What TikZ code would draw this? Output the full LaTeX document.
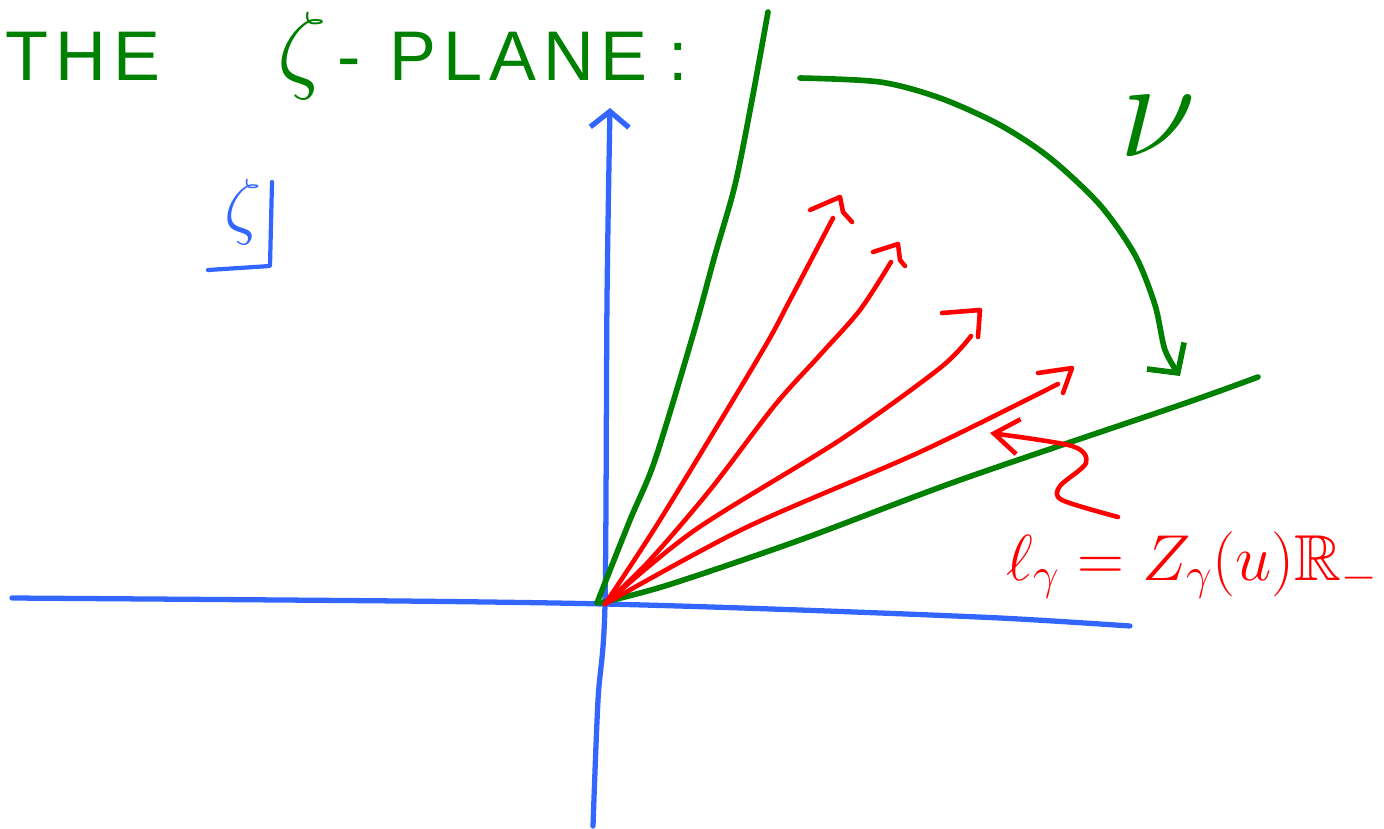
\RequirePackage{fix-cm}
\documentclass[tikz,border=0pt]{standalone}
\usepackage{fontspec}
\usepackage{amsmath}
\usepackage{amssymb}
\setmainfont{Liberation Sans}
\usetikzlibrary{arrows.meta, positioning}
\definecolor{axisBlue}{HTML}{3366FF}
\definecolor{penGreen}{HTML}{008000}
\definecolor{penRed}{HTML}{FF0000}

\begin{document}
\begin{tikzpicture}[
    x=0.02cm, y=-0.02cm,
    axis/.style={draw=axisBlue, line width=3pt, line cap=round, line join=round},
    wedge/.style={draw=penGreen, line width=3.2pt, line cap=round, line join=round},
    ray/.style={draw=penRed, line width=2.6pt, line cap=round, line join=round},
    lbl/.style={inner sep=0pt, anchor=base west},
]
    \useasboundingbox (0,0) rectangle (1384,829);
    \coordinate (O) at (605,604);

    % axes
    \draw[axis] plot[smooth] coordinates {(12,598) (400,601) (O) (800,610) (1000,618) (1130,626)};
    \draw[axis, -{Straight Barb[length=9pt, width=22pt]}] plot[smooth] coordinates {(593,826) (598,700) (O) (607,300) (610,108)};

    % labels
    \node[lbl, text=penGreen, font=\fontsize{40}{40}\selectfont\addfontfeature{LetterSpace=10}] (title) at (5,80)
        {THE\hspace{67pt}{\fontsize{56}{56}\selectfont$\zeta$}\hspace{6pt}-\hspace{16pt}PLANE\hspace{12pt}:};
    \node[text=axisBlue, font=\fontsize{42}{42}\selectfont] (zeta) at (243,212) {$\zeta$};
    \draw[axis, line width=2.4pt] (208,270) -- (270,266) -- (272,182);
    \node[text=penGreen, font=\fontsize{80}{80}\selectfont] (nu) at (1158,126) {$\nu$};
    \node[lbl, text=penRed, font=\fontsize{37}{37}\selectfont] (ldef) at (1006,580)
        {$\ell_\gamma = Z_\gamma(u)\mathbb{R}_-$};

    % the wedge and its rotation
    \draw[wedge] plot[smooth] coordinates {(597,603) (630,520) (655,460) (693,335) (715,255) (735,185) (752,100) (768,12)};
    \draw[wedge] plot[smooth] coordinates {(600,603) (668,585) (800,540) (960,480) (1180,405) (1258,377)};
    \draw[wedge, -{Straight Barb[length=12pt, width=26pt]}] plot[smooth] coordinates
        {(800,78) (880,82) (940,98) (1000,125) (1050,158) (1100,205) (1135,255) (1155,305) (1165,350) (1180,376)};

    % rays
    \coordinate (r1) at (833,218);
    \coordinate (r2) at (891,262);
    \coordinate (r3) at (971,336);
    \coordinate (r4) at (1058,384);
    \draw[ray] plot[smooth] coordinates {(O) (660,520) (760,355) (790,300) (r1)};
    \draw[ray] plot[smooth] coordinates {(O) (650,560) (710,490) (775,405) (820,355) (860,310) (r2)};
    \draw[ray] plot[smooth] coordinates {(O) (695,530) (840,440) (940,368) (r3)};
    \draw[ray] plot[smooth] coordinates {(O) (745,528) (920,452) (r4)};
    \draw[ray] (810,210) -- (840,197) -- (843,212) -- (852,222);
    \draw[ray] (873,252) -- (898,244) -- (900,260) -- (905,266);
    \draw[ray] (942,313) -- (980,310) -- (978,337);
    \draw[ray] (1038,373) -- (1072,368) -- (1063,393);

    % pointer to the ray label
    \draw[ray, -{Straight Barb[length=14pt, width=20pt]}] plot[smooth] coordinates
        {(1118,517) (1062,500) (1060,486) (1086,463) (1072,446) (990,433)};
\end{tikzpicture}
\end{document}
